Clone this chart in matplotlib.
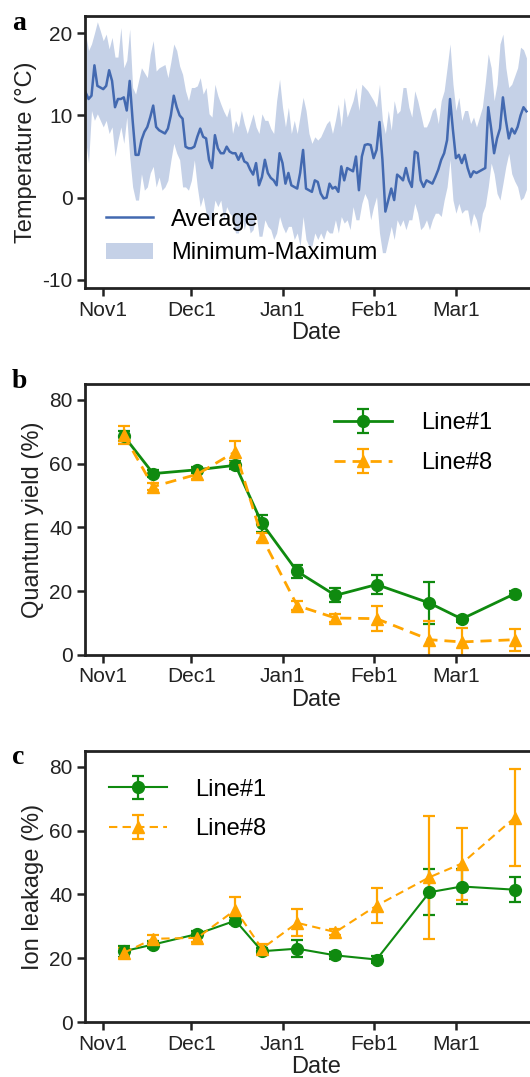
import numpy as np
import pandas as pd
import matplotlib
matplotlib.use('Agg')
import matplotlib.pyplot as plt
from matplotlib.patches import Patch
from matplotlib.lines import Line2D

plt.rcParams['font.family'] = ['Liberation Sans', 'DejaVu Sans']
plt.rcParams['axes.unicode_minus'] = False

# ---------------- data ----------------
temp_start = '2018-10-26'
temp_avg = [12.8, 12.0, 12.4, 16.1, 13.6, 13.4, 13.2, 13.6, 15.5, 14.2,
            11.0, 12.0, 12.0, 12.2, 10.6, 14.2, 9.4, 5.2, 5.2, 7.0,
            8.0, 8.6, 9.8, 11.2, 8.6, 8.2, 8.0, 7.8, 8.4, 10.0,
            12.4, 11.0, 10.0, 9.6, 6.2, 6.0, 6.0, 6.2, 7.4, 8.4,
            7.4, 7.2, 4.6, 3.6, 7.6, 6.0, 5.4, 5.4, 6.2, 5.6,
            5.4, 5.4, 4.6, 5.4, 4.4, 4.2, 3.4, 2.8, 4.2, 1.5,
            2.5, 4.6, 3.0, 2.4, 2.1, 1.5, 5.4, 4.2, 1.7, 3.0,
            1.5, 1.3, 1.1, 3.0, 5.8, 1.1, 0.9, 0.7, 2.1, 1.9,
            0.5, -0.1, 0.0, 1.7, 1.1, 1.3, 0.7, 3.8, 2.1, 3.6,
            3.4, 3.2, 5.0, 0.9, 5.0, 6.4, 6.5, 6.4, 4.8, 5.8,
            9.2, 4.6, -1.7, -0.3, 1.1, -0.3, 2.8, 2.5, 2.1, 3.6,
            2.1, 1.3, 5.6, 5.4, 2.1, 1.3, 2.1, 1.9, 1.7, 2.5,
            3.4, 4.6, 5.4, 7.0, 12.0, 8.2, 4.8, 5.2, 4.2, 5.2,
            3.6, 2.5, 3.2, 3.0, 3.2, 3.4, 3.6, 11.0, 8.4, 5.4,
            7.2, 8.4, 12.2, 9.4, 7.2, 8.4, 7.8, 8.6, 10.0, 11.0,
            10.5]
temp_max = [19.9, 17.9, 18.7, 20.0, 21.4, 20.3, 19.1, 19.9, 18.1, 19.5,
            17.1, 17.1, 20.7, 15.8, 16.7, 20.5, 13.4, 12.6, 14.2, 15.8,
            15.2, 14.6, 17.5, 19.1, 15.4, 15.8, 16.0, 16.2, 14.6, 16.5,
            18.7, 17.9, 16.0, 15.0, 13.0, 11.8, 13.4, 13.4, 13.6, 14.6,
            12.6, 13.4, 10.2, 9.8, 13.8, 12.4, 11.4, 10.5, 9.8, 11.0,
            7.8, 9.4, 8.6, 10.6, 9.0, 7.8, 9.0, 10.2, 8.6, 7.8,
            10.2, 9.4, 9.4, 8.4, 7.8, 11.8, 14.4, 11.0, 8.6, 11.0,
            7.8, 9.4, 7.8, 10.0, 12.2, 10.6, 7.8, 6.6, 7.4, 7.0,
            7.4, 8.2, 9.0, 9.4, 7.8, 9.4, 11.4, 8.6, 12.2, 9.8,
            10.8, 11.8, 13.4, 10.6, 13.8, 13.4, 13.0, 12.4, 11.8, 11.0,
            13.8, 9.4, 7.8, 10.6, 8.2, 11.8, 10.2, 10.6, 13.4, 13.4,
            11.0, 9.8, 13.0, 11.8, 10.2, 8.6, 8.6, 9.4, 10.6, 11.0,
            9.0, 11.8, 13.0, 15.8, 18.7, 13.8, 10.6, 12.2, 9.4, 10.6,
            10.6, 9.0, 9.8, 8.6, 9.8, 11.0, 14.0, 17.5, 15.8, 11.8,
            13.8, 18.7, 19.9, 15.8, 13.4, 13.8, 14.8, 15.8, 18.3, 18.0,
            17.0]
temp_min = [7.0, 4.2, 10.6, 9.4, 10.2, 9.4, 8.6, 9.4, 7.8, 8.6,
            5.0, 7.0, 8.6, 6.6, 9.8, 5.0, 1.3, -0.3, -0.3, 2.9,
            0.9, 1.3, 3.0, 3.8, 1.3, 2.5, 0.9, 1.3, 2.1, 4.5,
            6.6, 5.4, 4.6, 1.3, 1.3, 0.9, 2.1, 4.6, 1.3, -1.1,
            0.1, -1.9, -2.7, -2.7, -0.3, -1.1, -0.3, -2.7, -1.1, -1.9,
            -2.3, -4.3, -4.3, -1.9, -3.9, -2.3, -4.3, -3.9, -1.9, -4.7,
            -4.7, -2.7, -3.5, -3.9, -5.1, -4.3, -2.3, -3.5, -4.3, -3.5,
            -3.5, -5.1, -4.3, -5.9, -2.3, -5.1, -5.9, -5.9, -4.3, -5.1,
            -4.3, -5.1, -3.9, -4.3, -4.3, -2.7, -4.3, -2.3, -3.1, -2.7,
            -3.9, -1.1, -2.7, -2.7, -0.7, 0.5, -0.3, -2.7, -1.1, 0.1,
            -4.3, -6.7, -6.7, -5.1, -3.5, -5.1, -2.7, -3.5, -2.7, -3.9,
            -2.7, -2.7, -0.7, -1.9, -3.9, -3.5, -2.7, -3.9, -2.7, -1.9,
            -1.9, -2.3, -0.3, 1.3, 4.6, -0.3, -1.9, -0.7, -1.9, -1.5,
            -1.5, -3.5, -1.9, -2.7, -4.3, -1.9, -1.0, 1.3, 4.2, 2.9,
            0.5, -0.3, 1.7, 3.8, 5.4, 2.9, 2.0, 1.3, -0.3, 0.0,
            1.0]

sample_dates = ['2018-11-08', '2018-11-18', '2018-12-03', '2018-12-16', '2018-12-25',
                '2019-01-06', '2019-01-19', '2019-02-02', '2019-02-20', '2019-03-03',
                '2019-03-21']

qy_line1 = [68.7, 56.9, 58.1, 59.5, 41.3, 26.2, 18.7, 22.1, 16.3, 11.3, 19.2]
qy_line1_err = [1.5, 1.0, 1.0, 1.2, 2.6, 2.1, 2.2, 3.0, 6.5, 1.0, 1.0]
qy_line8 = [69.0, 52.8, 56.7, 63.8, 36.9, 15.5, 11.6, 11.4, 4.8, 4.1, 4.8]
qy_line8_err = [2.8, 1.2, 1.5, 3.3, 1.5, 1.5, 1.2, 4.0, 6.0, 4.3, 3.4]

il_line1 = [22.2, 24.3, 27.6, 31.8, 22.2, 23.0, 20.9, 19.6, 40.7, 42.5, 41.5]
il_line1_err = [1.7, 1.0, 1.0, 1.0, 1.0, 2.7, 1.0, 1.0, 7.2, 5.6, 3.9]
il_line8 = [21.7, 26.1, 26.4, 35.2, 23.0, 31.1, 28.2, 36.5, 45.4, 49.7, 64.1]
il_line8_err = [1.5, 1.2, 1.2, 3.9, 1.5, 4.2, 1.0, 5.6, 19.3, 11.3, 15.2]

tick_dates = ['2018-11-01', '2018-12-01', '2019-01-01', '2019-02-01', '2019-03-01']
tick_labels = ['Nov1', 'Dec1', 'Jan1', 'Feb1', 'Mar1']

# ---------------- figure ----------------
W, H = 530, 1077
fig = plt.figure(figsize=(W / 100, H / 100), dpi=100)

x_lo = pd.Timestamp('2018-10-25 19:00')
x_hi = pd.Timestamp('2019-04-01')
ax_left = 85 / W
ax_width = 462 / W

def make_ax(top_px, bot_px):
    return fig.add_axes([ax_left, 1 - bot_px / H, ax_width, (bot_px - top_px) / H])

ax_a = make_ax(16, 288)
ax_b = make_ax(384, 655)
ax_c = make_ax(751, 1022)

spine_col = '#222222'
for ax in (ax_a, ax_b, ax_c):
    ax.set_xlim(x_lo, x_hi)
    ax.set_xticks(pd.to_datetime(tick_dates))
    ax.set_xticklabels(tick_labels)
    for s in ax.spines.values():
        s.set_linewidth(2.0)
        s.set_color(spine_col)
    ax.tick_params(axis='both', direction='out', length=6, width=1.8,
                   labelsize=15, colors=spine_col, labelcolor='#222222', pad=3)
    ax.set_xlabel('Date', fontsize=17, labelpad=2, color='#222222')

# panel a
t_dates = pd.date_range(temp_start, periods=len(temp_avg), freq='D')
line_col = '#4369b0'
fill_col = '#c5d1e7'
ax_a.fill_between(t_dates, temp_min, temp_max, color=fill_col, lw=0)
ax_a.plot(t_dates, temp_avg, color=line_col, lw=1.8)
ax_a.set_ylim(-11, 22.1)
ax_a.set_yticks([-10, 0, 10, 20])
ax_a.set_ylabel('Temperature (°C)', fontsize=17, color='#222222')
handles_a = [Line2D([], [], color=line_col, lw=1.8),
             Patch(facecolor=fill_col, edgecolor='none')]
ax_a.legend(handles_a, ['Average', 'Minimum-Maximum'], loc='upper left',
            bbox_to_anchor=(0.045, 0.292), frameon=False, fontsize=17,
            handlelength=2.0, handletextpad=0.75, labelspacing=0.5,
            borderaxespad=0, borderpad=0)

# panels b, c
s_dates = pd.to_datetime(sample_dates)
green = '#0f8a0f'
orange = '#ffa500'

def series(ax, y1, e1, y8, e8, lw):
    ax.errorbar(s_dates, y1, yerr=e1, color=green, marker='o', ms=8.5, lw=lw,
                elinewidth=1.6, capsize=4, capthick=1.6, label='Line#1')
    ax.errorbar(s_dates, y8, yerr=e8, color=orange, marker='^', ms=8.5, lw=lw,
                ls=(0, (4, 2.5)), elinewidth=1.6, capsize=4, capthick=1.6,
                label='Line#8')
    ax.set_ylim(0, 85)
    ax.set_yticks([0, 20, 40, 60, 80])

leg_kw = dict(loc='upper left', frameon=False, fontsize=17, handlelength=2.45,
              handletextpad=1.2, labelspacing=0.75, borderaxespad=0, borderpad=0)

series(ax_b, qy_line1, qy_line1_err, qy_line8, qy_line8_err, 2.0)
ax_b.set_ylabel('Quantum yield (%)', fontsize=17, color='#222222')
ax_b.legend(bbox_to_anchor=(0.54, 0.895), **leg_kw)

series(ax_c, il_line1, il_line1_err, il_line8, il_line8_err, 1.5)
ax_c.set_ylabel('Ion leakage (%)', fontsize=17, color='#222222')
ax_c.legend(bbox_to_anchor=(0.052, 0.898), **leg_kw)

for lab, ypx in (('a', 30), ('b', 388), ('c', 764)):
    fig.text(12 / W, 1 - ypx / H, lab, fontsize=20, fontweight='bold',
             family=['Liberation Serif', 'DejaVu Serif'], ha='left', va='baseline')

fig.savefig('out.png', dpi=100)
